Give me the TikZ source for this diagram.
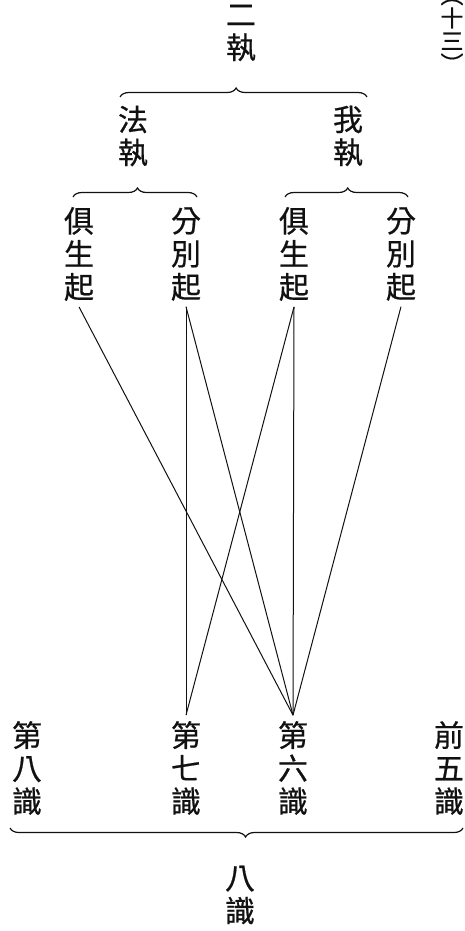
\documentclass[tikz,border=0pt]{standalone}
\usepackage{fontspec}
\newfontfamily\cjk[FakeBold=0.6]{Noto Sans CJK TC}
\usetikzlibrary{decorations.pathreplacing}
\definecolor{ink}{HTML}{111111}
\tikzset{
  term/.style={
    font=\cjk\fontsize{30}{33}\selectfont, align=center,
    inner sep=0pt, outer sep=6pt, text=ink
  },
  tag/.style={font=\cjk\fontsize{23}{23}\selectfont, align=center, inner sep=0pt, text=ink},
  link/.style={draw=ink, line width=1pt},
  grouping/.style={
    draw=ink, line width=1.2pt, decorate,
    decoration={brace, amplitude=9pt}
  }
}

\begin{document}
\begin{tikzpicture}[x=1pt, y=-1pt]
  \useasboundingbox (0,0) rectangle (464,931);

  % ---- Page tag ------------------------------------------------------------
  \node[tag] (pagetag) at (452, 36) {︵\\十\\三\\︶};

  % ---- Two attachments ------------------------------------------------------
  \node[term] (erzhi) at (241, 33) {二\\執};
  \draw[grouping, decoration={aspect=0.47}] (120,97) -- (367,97);

  \node[term] (fazhi) at (133, 136) {法\\執};
  \node[term] (wozhi) at (348, 136) {我\\執};
  \draw[grouping, decoration={aspect=0.52}] (73,197) -- (197,197);
  \draw[grouping, decoration={aspect=0.51}] (285,197) -- (408,197);

  % ---- Innate / discriminative ---------------------------------------------
  \node[term] (fa-ju)  at (79, 254)  {俱\\生\\起};
  \node[term] (fa-fen) at (186, 254) {分\\別\\起};
  \node[term] (wo-ju)  at (294, 254) {俱\\生\\起};
  \node[term] (wo-fen) at (401, 254) {分\\別\\起};

  % ---- Eight consciousnesses -----------------------------------------------
  \node[term] (ba)     at (27, 768)  {第\\八\\識};
  \node[term] (qi)     at (186, 768) {第\\七\\識};
  \node[term] (liu)    at (293, 768) {第\\六\\識};
  \node[term] (qianwu) at (449, 768) {前\\五\\識};
  \draw[grouping, decoration={aspect=0.48}] (463,828) -- (10,828);
  \node[term] (bashi)  at (240, 895) {八\\識};

  % ---- Links ---------------------------------------------------------------
  \draw[link] (fa-ju.south)  -- (liu.north);
  \draw[link] (fa-fen.south) -- (qi.north);
  \draw[link] (fa-fen.south) -- (liu.north);
  \draw[link] (wo-ju.south)  -- (liu.north);
  \draw[link] (wo-ju.south)  -- (qi.north);
  \draw[link] (wo-fen.south) -- (liu.north);

\end{tikzpicture}
\end{document}
